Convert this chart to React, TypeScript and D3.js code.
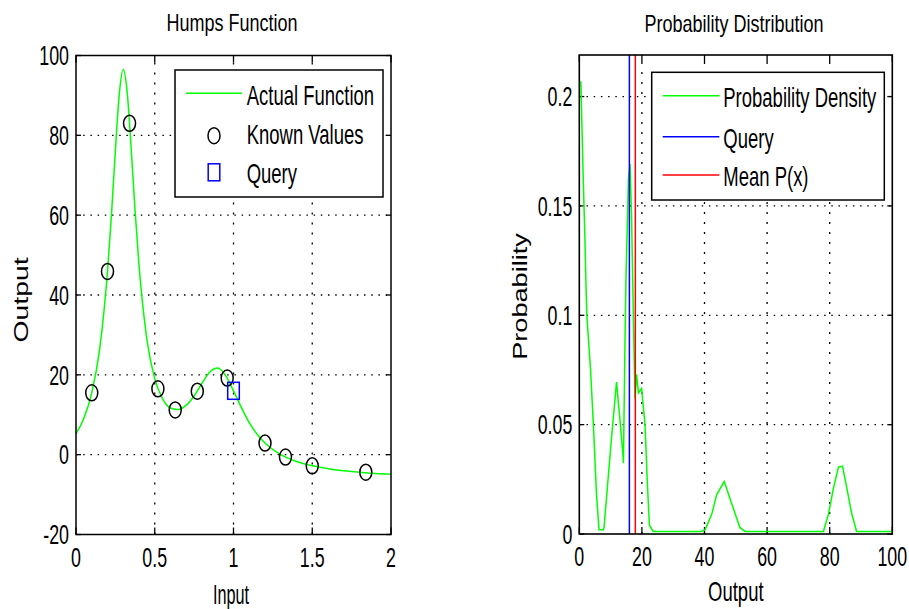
import React from 'react';
import * as d3 from 'd3';

const W = 909, H = 609;
const FONT = "'Liberation Sans', Arial, Helvetica, sans-serif";

// ---- Left chart: Humps function ----
const humpsX = [0,0.05,0.1,0.15,0.2,0.225,0.25,0.275,0.3,0.325,0.35,0.375,0.4,0.45,0.5,0.55,0.6,0.65,0.7,0.75,0.8,0.85,0.9,0.95,1.0,1.05,1.1,1.15,1.2,1.3,1.4,1.5,1.6,1.7,1.8,1.9,2.0];
const humpsY = [5.2,9.1,15.5,26.4,45.9,60.0,76.2,90.4,96.5,90.8,76.9,61.2,47.5,28.9,19.0,14.0,11.7,11.3,12.4,14.7,17.9,20.7,21.7,19.8,16.0,11.8,8.0,5.1,2.9,0.0,-1.7,-2.8,-3.5,-4.0,-4.4,-4.7,-4.9];
const knownX = [0.1,0.2,0.34,0.52,0.63,0.77,0.96,1.2,1.33,1.5,1.84];
const knownY = [15.5,45.9,83.0,16.5,11.2,15.9,19.2,2.9,-0.6,-2.8,-4.4];
const queryX = [1.0];
const queryY = [16];
const leftXTicks = [0,0.5,1,1.5,2];
const leftYTicks = [-20,0,20,40,60,80,100];

// ---- Right chart: probability distribution ----
const probX = [0.5,0.9,1.3,1.8,2.1,2.4,3.6,4.5,5.5,6.3,7.7,7.9,10.3,11.9,13.0,13.9,14.1,14.6,14.9,15.7,16.2,16.7,17.3,17.8,18.3,18.9,19.9,21.0,21.7,22.4,23.6,39.1,40.2,42.3,43.9,46.3,48.7,51.3,52.9,78.0,79.6,81.2,82.8,84.1,85.4,87.0,88.6,100];
const probY = [0.207,0.183,0.160,0.135,0.116,0.100,0.075,0.050,0.018,0.002,0.002,0.003,0.044,0.0695,0.052,0.037,0.0324,0.0886,0.116,0.162,0.169,0.145,0.098,0.062,0.073,0.0645,0.0665,0.050,0.0245,0.004,0.0012,0.0012,0.002,0.009,0.018,0.024,0.0138,0.003,0.0012,0.0012,0.009,0.021,0.0306,0.031,0.0215,0.0095,0.0012,0.0012];
const queryValue = 16.0;
const meanValue = 17.9;
const rightXTicks = [0,20,40,60,80,100];
const rightYTicks = [0,0.05,0.1,0.15,0.2];

type TP = { x: number; y: number; s: number; sx?: number; rot?: number; anchor?: string; children: React.ReactNode };
function T({ x, y, s, sx = 1, rot = 0, anchor = 'middle', children }: TP) {
  return (
    <text transform={`translate(${x},${y}) rotate(${rot}) scale(${sx},1)`} fontSize={s}
      textAnchor={anchor as any} fontFamily={FONT} fill="#000">{children}</text>
  );
}

function Axes({ xs, ys, xticks, yticks, fx, fy }: any) {
  const [x0, x1] = xs.range();
  const [y0, y1] = ys.range(); // y0 bottom, y1 top
  const TS = 27, TSX = 0.66;
  return (
    <g>
      {/* grid */}
      {xticks.filter((t: number) => t !== xs.domain()[0] && t !== xs.domain()[1]).map((t: number) => (
        <line key={'gx' + t} x1={xs(t)} x2={xs(t)} y1={y0} y2={y1} stroke="#000" strokeWidth={1.3} strokeDasharray="2 8" />
      ))}
      {yticks.filter((t: number) => t !== ys.domain()[0] && t !== ys.domain()[1]).map((t: number) => (
        <line key={'gy' + t} x1={x0} x2={x1} y1={ys(t)} y2={ys(t)} stroke="#000" strokeWidth={1.3} strokeDasharray="1.5 5.7" />
      ))}
      {/* ticks */}
      {xticks.map((t: number) => (
        <g key={'tx' + t}>
          <line x1={xs(t)} x2={xs(t)} y1={y0} y2={y0 - 7} stroke="#000" strokeWidth={1.3} />
          <line x1={xs(t)} x2={xs(t)} y1={y1} y2={y1 + 7} stroke="#000" strokeWidth={1.3} />
          <T x={xs(t)} y={y0 + 32} s={TS} sx={TSX}>{fx(t)}</T>
        </g>
      ))}
      {yticks.map((t: number) => (
        <g key={'ty' + t}>
          <line x1={x0} x2={x0 + 5} y1={ys(t)} y2={ys(t)} stroke="#000" strokeWidth={1.3} />
          <line x1={x1} x2={x1 - 5} y1={ys(t)} y2={ys(t)} stroke="#000" strokeWidth={1.3} />
          <T x={x0 - 7} y={ys(t) + 9.7} s={TS} sx={TSX} anchor="end">{fy(t)}</T>
        </g>
      ))}
    </g>
  );
}

export default function App() {
  // left
  const lx = d3.scaleLinear().domain([0, 2]).range([76, 391]);
  const ly = d3.scaleLinear().domain([-20, 100]).range([534.5, 55.5]);
  // right
  const rx = d3.scaleLinear().domain([0, 100]).range([579.3, 892.3]);
  const ry = d3.scaleLinear().domain([0, 0.219]).range([534, 55]);

  const humpsLine = d3.line<number>().x((_, i) => lx(humpsX[i])).y((d) => ly(d)).curve(d3.curveMonotoneX)(humpsY) || '';
  const probLine = d3.line<number>().x((_, i) => rx(probX[i])).y((d) => ry(d))(probY) || '';

  const fmtL = (t: number) => String(t);
  const fmtR = (t: number) => String(t);

  return (
    <svg width={W} height={H} style={{ position: 'absolute', left: 0, top: 0, background: '#fff' }}>
      <rect x={0} y={0} width={W} height={H} fill="#fff" />

      {/* ===== Left chart ===== */}
      <Axes xs={lx} ys={ly} xticks={leftXTicks} yticks={leftYTicks} fx={fmtL} fy={fmtL} />
      <path d={humpsLine} fill="none" stroke="#00ff00" strokeWidth={1.5} />
      {knownX.map((x, i) => (
        <ellipse key={'k' + i} cx={lx(x)} cy={ly(knownY[i])} rx={6} ry={8} fill="none" stroke="#000" strokeWidth={1.5} />
      ))}
      {queryX.map((x, i) => (
        <rect key={'q' + i} x={lx(x) - 5.8} y={ly(queryY[i]) - 8.5} width={11.6} height={17} fill="none" stroke="#0000ff" strokeWidth={1.5} />
      ))}
      <rect x={76} y={55.5} width={315} height={479} fill="none" stroke="#000" strokeWidth={1.5} />
      {/* legend */}
      <rect x={175} y={70} width={208} height={127} fill="#fff" stroke="#000" strokeWidth={1.5} />
      <line x1={186} x2={242} y1={93.3} y2={93.3} stroke="#00ff00" strokeWidth={1.5} />
      <T x={246.7} y={105} s={28} sx={0.66} anchor="start">Actual Function</T>
      <ellipse cx={214} cy={135.7} rx={6} ry={8} fill="none" stroke="#000" strokeWidth={1.5} />
      <T x={246.7} y={144} s={28} sx={0.66} anchor="start">Known Values</T>
      <rect x={208.2} y={163.8} width={11.6} height={17} fill="none" stroke="#0000ff" strokeWidth={1.5} />
      <T x={246.7} y={183} s={28} sx={0.66} anchor="start">Query</T>
      {/* titles & labels */}
      <T x={232} y={31} s={24} sx={0.75}>Humps Function</T>
      <T x={231} y={604} s={28} sx={0.58}>Input</T>
      <T x={28} y={300} s={21} sx={1.35} rot={-90}>Output</T>

      {/* ===== Right chart ===== */}
      <Axes xs={rx} ys={ry} xticks={rightXTicks} yticks={rightYTicks} fx={fmtR} fy={fmtR} />
      <path d={probLine} fill="none" stroke="#00ff00" strokeWidth={1.5} />
      <line x1={rx(queryValue)} x2={rx(queryValue)} y1={534} y2={55} stroke="#0000ff" strokeWidth={1.5} />
      <line x1={rx(meanValue)} x2={rx(meanValue)} y1={534} y2={55} stroke="#ff0000" strokeWidth={1.5} />
      <rect x={579.3} y={55} width={313} height={479} fill="none" stroke="#000" strokeWidth={1.6} />
      {/* legend */}
      <rect x={651.7} y={72.3} width={232.6} height={127.7} fill="#fff" stroke="#000" strokeWidth={1.5} />
      <line x1={662.7} x2={719.3} y1={95.7} y2={95.7} stroke="#00ff00" strokeWidth={1.5} />
      <T x={723.3} y={106.7} s={28} sx={0.66} anchor="start">Probability Density</T>
      <line x1={662.7} x2={719.3} y1={136.7} y2={136.7} stroke="#0000ff" strokeWidth={1.5} />
      <T x={723.3} y={147.8} s={28} sx={0.66} anchor="start">Query</T>
      <line x1={662.7} x2={719.3} y1={175} y2={175} stroke="#ff0000" strokeWidth={1.5} />
      <T x={723.3} y={186.3} s={28} sx={0.66} anchor="start">Mean P(x)</T>
      {/* titles & labels */}
      <T x={734} y={32} s={24} sx={0.75}>Probability Distribution</T>
      <T x={735.8} y={601} s={28} sx={0.66}>Output</T>
      <T x={527} y={296.5} s={19.5} sx={1.39} rot={-90}>Probability</T>
    </svg>
  );
}
